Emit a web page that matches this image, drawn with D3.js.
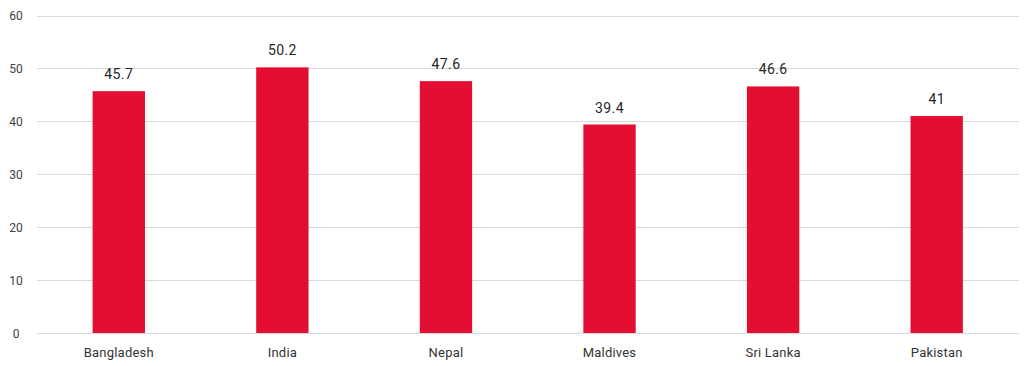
<!DOCTYPE html>
<html lang="en">
<head>
    <meta charset="utf-8">
    <title>Bar chart</title>
    <script src="https://d3js.org/d3.v7.min.js"></script>
    <style>
        html, body {
            margin: 0;
            padding: 0;
            background: #fff;
        }
        text {
            font-family: Roboto, "Liberation Sans", sans-serif;
        }
        .grid line {
            stroke: #d9d9d9;
            stroke-width: 1px;
            shape-rendering: crispEdges;
        }
    </style>
</head>
<body>
<script type="text/javascript">

    var countries = ["Bangladesh", "India", "Nepal", "Maldives", "Sri Lanka", "Pakistan"];
    var values = [45.7, 50.2, 47.6, 39.4, 46.6, 41];
    var valueLabels = ["45.7", "50.2", "47.6", "39.4", "46.6", "41"];
    var yTicks = [0, 10, 20, 30, 40, 50, 60];

    var w = 1024;
    var h = 366;

    var xScale = d3.scaleBand()
        .domain(countries)
        .range([37, 1018.5])
        .paddingInner(0.68)
        .paddingOuter(0.34);

    var yScale = d3.scaleLinear()
        .domain([0, 60])
        .range([333, 15.5]);

    var svg = d3.select("body")
        .append("svg")
        .attr("width", w)
        .attr("height", h);

    //gridlines
    svg.append("g")
        .attr("class", "grid")
        .selectAll("line")
        .data(yTicks)
        .enter()
        .append("line")
        .attr("x1", 37)
        .attr("x2", 1018.5)
        .attr("y1", function(d) { return Math.round(yScale(d)) + 0.5; })
        .attr("y2", function(d) { return Math.round(yScale(d)) + 0.5; });

    //y labels
    svg.append("g")
        .selectAll("text")
        .data(yTicks)
        .enter()
        .append("text")
        .attr("x", 16)
        .attr("y", function(d) { return yScale(d) + 4.5; })
        .attr("text-anchor", "middle")
        .attr("font-size", "12px")
        .attr("fill", "#404040")
        .text(function(d) { return d; });

    //bars
    svg.append("g")
        .selectAll("rect")
        .data(values)
        .enter()
        .append("rect")
        .attr("x", function(d, i) { return xScale(countries[i]); })
        .attr("width", xScale.bandwidth())
        .attr("y", function(d) { return yScale(d); })
        .attr("height", function(d) { return yScale(0) - yScale(d); })
        .attr("fill", "#e30e31");

    //value labels
    svg.append("g")
        .selectAll("text")
        .data(values)
        .enter()
        .append("text")
        .attr("x", function(d, i) { return xScale(countries[i]) + xScale.bandwidth() / 2; })
        .attr("y", function(d) { return yScale(d) - 12; })
        .attr("text-anchor", "middle")
        .attr("font-size", "14px")
        .attr("letter-spacing", "0.4px")
        .attr("fill", "#262626")
        .text(function(d, i) { return valueLabels[i]; });

    //category labels
    svg.append("g")
        .selectAll("text")
        .data(countries)
        .enter()
        .append("text")
        .attr("x", function(d) { return xScale(d) + xScale.bandwidth() / 2; })
        .attr("y", 357)
        .attr("text-anchor", "middle")
        .attr("font-size", "13px")
        .attr("letter-spacing", "0.2px")
        .attr("fill", "#333")
        .text(function(d) { return d; });

</script>
</body>
</html>
